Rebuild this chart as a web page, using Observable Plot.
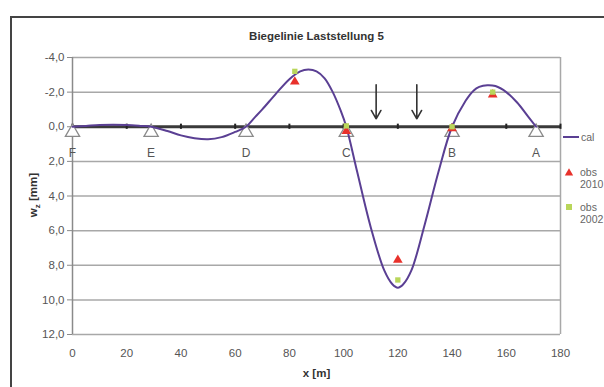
<!DOCTYPE html>
<html>
<head>
<meta charset="utf-8">
<script src="https://cdn.jsdelivr.net/npm/d3@7"></script>
<script src="https://cdn.jsdelivr.net/npm/@observablehq/plot@0.6"></script>
<style>
  html, body { margin: 0; padding: 0; background: #fff; overflow: hidden; width: 604px; height: 387px; }
  #frame { position: absolute; left: 10px; top: 16px; width: 700px; height: 500px; border: 2px solid #444; box-sizing: border-box; }
  #chart { position: absolute; left: 0; top: 0; }
  #chart svg { background: transparent !important; }
</style>
</head>
<body>
<div id="frame"></div>
<div id="chart"></div>
<script>
// ---- data ----
const title = "Biegelinie Laststellung 5";
const xTicks = [0, 20, 40, 60, 80, 100, 120, 140, 160, 180];
const yTicks = [-4, -2, 0, 2, 4, 6, 8, 10, 12];

const calX = [0, 5, 10, 15, 20, 25, 29, 35, 40, 45, 50, 55, 60, 64, 67, 70, 75, 80, 84, 87, 90, 93, 96, 99, 101, 105, 110, 115, 118, 120, 122, 125, 130, 135, 140, 145, 148, 150, 153, 156, 160, 164, 168, 171];
const calY = [0, -0.05, -0.1, -0.12, -0.1, -0.05, 0, 0.25, 0.5, 0.66, 0.72, 0.6, 0.3, 0, -0.5, -1.0, -1.9, -2.75, -3.2, -3.3, -3.2, -2.8, -2.0, -0.9, 0, 2.6, 5.8, 8.3, 9.1, 9.3, 9.1, 8.3, 5.6, 2.6, 0, -1.5, -2.1, -2.3, -2.4, -2.35, -2.0, -1.4, -0.6, 0];

const obs2010X = [82, 101, 120, 140, 155];
const obs2010Y = [-2.6, 0.25, 7.7, 0.1, -1.85];
const obs2002X = [82, 101, 120, 140, 155];
const obs2002Y = [-3.2, -0.05, 8.85, 0.0, -2.0];

const supportX = [0, 29, 64, 101, 140, 171];
const supportLabels = ["F", "E", "D", "C", "B", "A"];
const loadX = [112, 127];
const loadTop = -2.43, loadBottom = -0.46;

const seriesNames = ["cal", "obs\n2010", "obs\n2002"];

// ---- build ----
const cal = calX.map((x, i) => ({x, y: calY[i]}));
const o2010 = obs2010X.map((x, i) => ({x, y: obs2010Y[i]}));
const o2002 = obs2002X.map((x, i) => ({x, y: obs2002Y[i]}));
const supports = supportX.map((x, i) => ({x, label: supportLabels[i]}));

const purple = "#5a3f93";
const red = "#e8312b";
const green = "#b9d65a";
const font = "Liberation Sans, Arial, sans-serif";

const plot = Plot.plot({
  width: 604,
  height: 387,
  marginLeft: 72,
  marginRight: 44,
  marginTop: 57,
  marginBottom: 53,
  style: {fontFamily: font, background: "transparent", overflow: "visible"},
  x: {domain: [0, 180]},
  y: {domain: [-4, 12], reverse: true},
  marks: [
    Plot.ruleY(yTicks, {stroke: "#a8a8a8", strokeWidth: 1.5}),
    Plot.ruleX([180], {y1: -4, y2: 12, stroke: "#a8a8a8", strokeWidth: 1.5}),
    Plot.ruleX([0], {y1: -4, y2: 12, stroke: "#8a8a8a", strokeWidth: 1.5}),
    Plot.axisY({ticks: yTicks, tickSize: 5, tickPadding: 3, label: null, fontSize: 11.5, stroke: "#8a8a8a", fill: "#555",
      tickFormat: d => d.toFixed(1).replace(".", ",")}),
    Plot.axisX({ticks: xTicks, tickSize: 0, tickPadding: 14, label: null, fontSize: 11.5, fill: "#555", tickFormat: d => String(d)}),
    // beam (x axis crossing at 0)
    Plot.ruleY([0], {x1: 0, x2: 180, stroke: "#3a3a3a", strokeWidth: 3}),
    Plot.ruleX(xTicks, {y1: -0.15, y2: 0.15, stroke: "#222", strokeWidth: 2}),
    // supports
    Plot.dot(supports, {x: "x", y: () => 0, symbol: "triangle", r: 5.3, fill: "white", stroke: "#8a8a8a", strokeWidth: 1.3, dy: 5.5}),
    Plot.text(supports, {x: "x", y: () => 0, text: "label", dy: 26, fontSize: 12, fill: "#555"}),
    // loads
    Plot.arrow(loadX, {x1: d => d, x2: d => d, y1: () => loadTop, y2: () => loadBottom, stroke: "#333", strokeWidth: 1.6, headLength: 9}),
    // calculated line
    Plot.line(cal, {x: "x", y: "y", curve: "catmull-rom", stroke: purple, strokeWidth: 2}),
    // observations
    Plot.dot(o2010, {x: "x", y: "y", symbol: "triangle", r: 3.6, fill: red}),
    Plot.dot(o2002, {x: "x", y: "y", symbol: "square", r: 3, fill: green}),
    // title & x label
    Plot.text([title], {frameAnchor: "top", lineAnchor: "middle", dy: -21, fontSize: 11.5, fontWeight: "bold", fill: "#333"}),
    Plot.text(["x [m]"], {frameAnchor: "bottom", lineAnchor: "middle", dy: 39, fontSize: 11.5, fontWeight: "bold", fill: "#333"})
  ]
});
document.getElementById("chart").appendChild(plot);

// y-axis label with subscript and legend
const svg = d3.select(plot);
const yl = svg.append("text")
  .attr("transform", "translate(37,195) rotate(-90)")
  .attr("text-anchor", "middle")
  .attr("font-family", font)
  .attr("font-size", 11.5)
  .attr("font-weight", "bold")
  .attr("fill", "#333");
yl.append("tspan").text("w");
yl.append("tspan").attr("font-size", 8).attr("dy", 3).text("z");
yl.append("tspan").attr("dy", -3).text(" [mm]");

const lg = svg.append("g").attr("font-family", font).attr("font-size", 10.5).attr("fill", "#666").attr("text-anchor", "start");
lg.append("line").attr("x1", 563).attr("x2", 579).attr("y1", 137).attr("y2", 137).attr("stroke", purple).attr("stroke-width", 2);
lg.append("text").attr("x", 581).attr("y", 141).text(seriesNames[0]);
lg.append("path").attr("d", d3.symbol(d3.symbolTriangle, 30)()).attr("transform", "translate(569,173)").attr("fill", red);
const t1 = lg.append("text").attr("x", 580).attr("y", 176);
seriesNames[1].split("\n").forEach((s, i) => t1.append("tspan").attr("x", 580).attr("dy", i ? 12 : 0).text(s));
lg.append("rect").attr("x", 566).attr("y", 204).attr("width", 6).attr("height", 6).attr("fill", green);
const t2 = lg.append("text").attr("x", 580).attr("y", 211);
seriesNames[2].split("\n").forEach((s, i) => t2.append("tspan").attr("x", 580).attr("dy", i ? 12 : 0).text(s));
</script>
</body>
</html>
